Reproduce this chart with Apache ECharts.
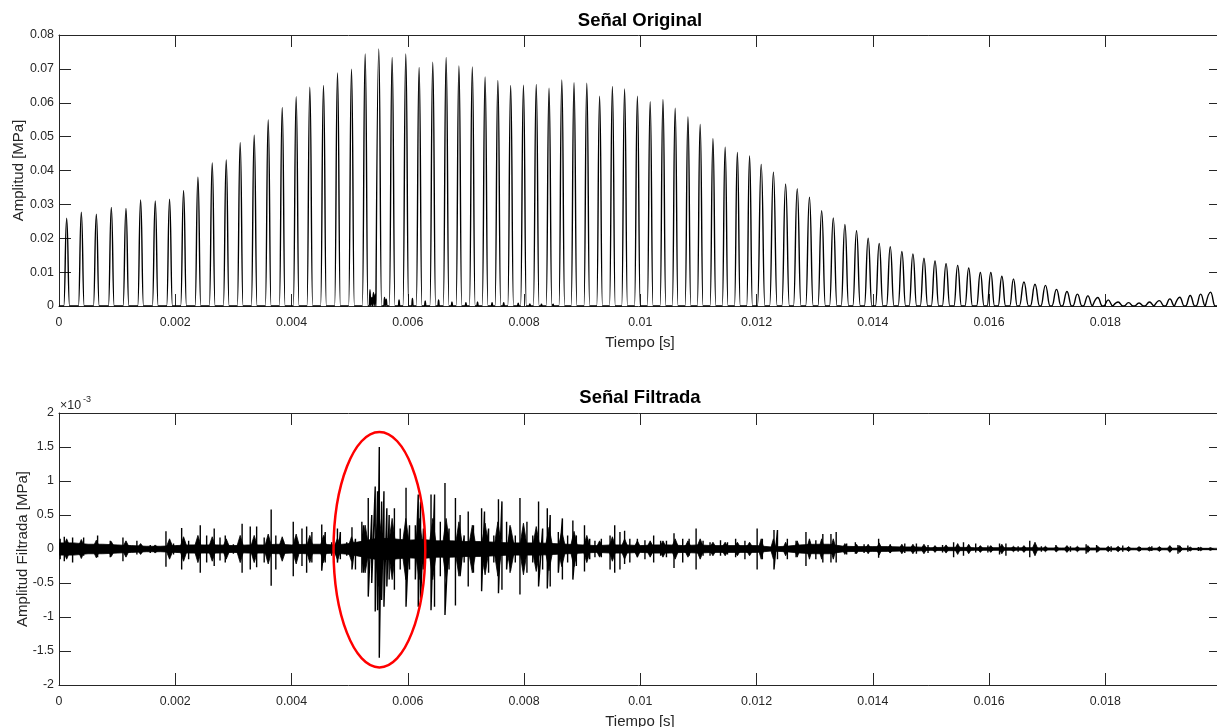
<!DOCTYPE html>
<html>
<head>
<meta charset="utf-8">
<title>Señal Original / Señal Filtrada</title>
<script src="https://cdn.jsdelivr.net/npm/echarts@6/dist/echarts.min.js"></script>
<style>
  html, body { margin: 0; padding: 0; background: #fff; }
  #chart { width: 1217px; height: 727px; }
</style>
</head>
<body>
<div id="chart"></div>
<script>
// ---- Señal Original: peak time [s] and peak amplitude [MPa] of every pulse ----
const peakTime = [
  0.000132, 0.000384, 0.000642, 0.000900, 0.001152, 0.001404, 0.001656, 0.001902, 0.002143, 0.002390,
  0.002636, 0.002877, 0.003117, 0.003358, 0.003599, 0.003840, 0.004080, 0.004315, 0.004550, 0.004791,
  0.005032, 0.005267, 0.005501, 0.005731, 0.005966, 0.006195, 0.00643, 0.00666, 0.00688, 0.00711,
  0.00733, 0.00755, 0.00777, 0.00799, 0.00821, 0.00843, 0.00865, 0.00886, 0.00908, 0.00930,
  0.00952, 0.00973, 0.00995, 0.01017, 0.01039, 0.01060, 0.01082, 0.01103, 0.01125, 0.01146,
  0.01167, 0.01188, 0.01208, 0.01229, 0.01250, 0.01270, 0.01291, 0.01312, 0.01332, 0.01352,
  0.01372, 0.01392, 0.01411, 0.01430, 0.01450, 0.01469, 0.01488, 0.01507, 0.01526, 0.01546,
  0.01565, 0.01585, 0.01603, 0.01622, 0.01642, 0.01660, 0.01679, 0.01697, 0.01716, 0.01734,
  0.01752, 0.01770, 0.01787, 0.01805, 0.01822, 0.01840, 0.01858, 0.01876, 0.01893, 0.01911,
  0.01928, 0.01946, 0.01964, 0.01981
];
const peakAmp = [
  0.0259, 0.0277, 0.0271, 0.0291, 0.0288, 0.0313, 0.0310, 0.0315, 0.0341, 0.0380,
  0.0422, 0.0431, 0.0482, 0.0504, 0.0549, 0.0586, 0.0618, 0.0646, 0.0651, 0.0688,
  0.0699, 0.0744, 0.0759, 0.0734, 0.0744, 0.0704, 0.0720, 0.0734, 0.0709, 0.0706,
  0.0676, 0.0666, 0.0651, 0.0652, 0.0654, 0.0643, 0.0667, 0.0659, 0.0658, 0.0619,
  0.0648, 0.0641, 0.0619, 0.0603, 0.0610, 0.0584, 0.0558, 0.0536, 0.0494, 0.0469,
  0.0453, 0.0443, 0.0418, 0.0395, 0.0360, 0.0346, 0.0321, 0.0281, 0.0260, 0.0241,
  0.0222, 0.0200, 0.0185, 0.0175, 0.0161, 0.0154, 0.0141, 0.0133, 0.0125, 0.0120,
  0.0112, 0.0099, 0.0099, 0.0088, 0.0080, 0.0071, 0.0064, 0.0061, 0.0049, 0.0043,
  0.0035, 0.0030, 0.0025, 0.0018, 0.0012, 0.0010, 0.0009, 0.0012, 0.0016, 0.0021,
  0.0026, 0.0031, 0.0035, 0.0041
];
// small wiggles on the baseline between pulses
const bumpTime = [0.00535, 0.00538, 0.00541, 0.00544, 0.0056, 0.00563, 0.00585, 0.00608, 0.0063, 0.00653,
  0.00676, 0.0070, 0.0072, 0.00745, 0.00765, 0.0079, 0.0081, 0.0083, 0.0085];
const bumpAmp = [0.0048, 0.0025, 0.0040, 0.0035, 0.0025, 0.0020, 0.0018, 0.0022, 0.0015, 0.0018,
  0.0012, 0.0010, 0.0012, 0.0010, 0.0010, 0.0008, 0.0006, 0.0005, 0.0005];

// ---- Señal Filtrada (values in units of 1e-3 MPa) ----
// half-thickness of the dense burst that follows each pulse (same order as peakTime)
const burstAmp = [
  0.15, 0.14, 0.13, 0.11, 0.12, 0.08, 0.06, 0.15, 0.18, 0.20,
  0.18, 0.15, 0.20, 0.20, 0.22, 0.18, 0.22, 0.20, 0.20, 0.16,
  0.18, 0.35, 0.55, 0.45, 0.45, 0.45, 0.45, 0.45, 0.40, 0.35,
  0.38, 0.40, 0.32, 0.38, 0.33, 0.32, 0.26, 0.26, 0.20, 0.12,
  0.18, 0.15, 0.12, 0.12, 0.12, 0.15, 0.12, 0.15, 0.10, 0.10,
  0.10, 0.10, 0.15, 0.15, 0.10, 0.12, 0.15, 0.15, 0.15, 0.08,
  0.07, 0.07, 0.09, 0.06, 0.07, 0.07, 0.07, 0.05, 0.06, 0.08,
  0.07, 0.05, 0.05, 0.07, 0.04, 0.05, 0.10, 0.04, 0.04, 0.05,
  0.04, 0.05, 0.04, 0.04, 0.04, 0.035, 0.035, 0.03, 0.035, 0.05,
  0.05, 0.03, 0.025, 0.02
];
// half-thickness of the noise floor between bursts, read every 0.25 ms
const bandTime = [
  0, 0.00025, 0.0005, 0.00075, 0.001, 0.00125, 0.0015, 0.00175, 0.002, 0.00225,
  0.0025, 0.00275, 0.003, 0.00325, 0.0035, 0.00375, 0.004, 0.00425, 0.0045, 0.00475,
  0.005, 0.00525, 0.0055, 0.00575, 0.006, 0.00625, 0.0065, 0.00675, 0.007, 0.00725,
  0.0075, 0.00775, 0.008, 0.00825, 0.0085, 0.00875, 0.009, 0.00925, 0.0095, 0.00975,
  0.01, 0.01025, 0.0105, 0.01075, 0.011, 0.01125, 0.0115, 0.01175, 0.012, 0.01225,
  0.0125, 0.01275, 0.013, 0.01325, 0.0135, 0.01375, 0.014, 0.01425, 0.0145, 0.01475,
  0.015, 0.01525, 0.0155, 0.01575, 0.016, 0.01625, 0.0165, 0.01675, 0.017, 0.01725,
  0.0175, 0.01775, 0.018, 0.01825, 0.0185, 0.01875, 0.019, 0.01925, 0.0195, 0.01975, 0.01999
];
const bandAmp = [
  0.09, 0.09, 0.07, 0.07, 0.06, 0.05, 0.04, 0.04, 0.05, 0.06,
  0.06, 0.06, 0.05, 0.06, 0.06, 0.07, 0.06, 0.07, 0.07, 0.06,
  0.08, 0.12, 0.16, 0.15, 0.13, 0.14, 0.12, 0.12, 0.11, 0.11,
  0.10, 0.09, 0.09, 0.09, 0.08, 0.07, 0.06, 0.05, 0.06, 0.06,
  0.05, 0.06, 0.06, 0.05, 0.06, 0.05, 0.05, 0.05, 0.05, 0.03,
  0.04, 0.06, 0.07, 0.07, 0.04, 0.035, 0.035, 0.035, 0.03, 0.03,
  0.02, 0.025, 0.025, 0.02, 0.02, 0.02, 0.018, 0.02, 0.015, 0.015,
  0.015, 0.015, 0.013, 0.013, 0.012, 0.012, 0.012, 0.012, 0.01, 0.01, 0.01
];
// individual spikes: time, upper and lower extreme
const spikeTime = [
  0.00002, 0.000091, 0.000234, 0.000424, 0.000664, 0.000882, 0.0011, 0.00134, 0.00157, 0.00184,
  0.00197, 0.00211, 0.00223, 0.00243, 0.00254, 0.00267, 0.00277, 0.00286, 0.0030, 0.00315,
  0.00329, 0.0034, 0.00353, 0.00365, 0.00373, 0.00386, 0.00403, 0.00418, 0.00426, 0.00435,
  0.00452, 0.00458, 0.00469, 0.00479, 0.00484, 0.00495, 0.00504, 0.0051, 0.00521, 0.00524,
  0.00532, 0.00538, 0.00544, 0.00548, 0.00551, 0.00555, 0.00559, 0.00564, 0.00568, 0.00577,
  0.00587, 0.00597, 0.00603, 0.00613, 0.00618, 0.00622, 0.00627, 0.0064, 0.00646, 0.00656,
  0.00664, 0.00671, 0.00682, 0.0069, 0.00697, 0.00704, 0.00713, 0.00727, 0.00732, 0.00739,
  0.00748, 0.00756, 0.00762, 0.0077, 0.00776, 0.00785, 0.00793, 0.00805, 0.00815, 0.00825,
  0.00832, 0.0084, 0.00845, 0.00859, 0.00866, 0.00875, 0.00884, 0.0089, 0.00904, 0.00913,
  0.00922, 0.00933, 0.00948, 0.00956, 0.00965, 0.00973, 0.00982, 0.00995, 0.01008, 0.01023,
  0.01035, 0.01045, 0.01058, 0.01073, 0.01084, 0.01096, 0.01108, 0.0112, 0.01138, 0.0115,
  0.01164, 0.0118, 0.01201, 0.0121, 0.0123, 0.01236, 0.01253, 0.01268, 0.01285, 0.01302,
  0.01314, 0.01328, 0.01337, 0.01355, 0.0137, 0.01385, 0.0141, 0.0143, 0.01455, 0.01475,
  0.01495, 0.0152, 0.01539, 0.01556, 0.01577, 0.01598, 0.01618, 0.01629, 0.0165, 0.0167,
  0.0169, 0.01715, 0.0174, 0.01767, 0.01785, 0.0181, 0.0183, 0.0186, 0.0188, 0.01925,
  0.01942, 0.0196, 0.0198
];
const spikeHigh = [
  0.15, 0.18, 0.17, 0.17, 0.20, 0.12, 0.17, 0.12, 0.06, 0.26,
  0.08, 0.31, 0.12, 0.35, 0.20, 0.30, 0.17, 0.20, 0.07, 0.37,
  0.33, 0.33, 0.17, 0.58, 0.20, 0.12, 0.40, 0.30, 0.33, 0.25,
  0.36, 0.25, 0.10, 0.30, 0.25, 0.10, 0.32, 0.15, 0.40, 0.35,
  0.75, 0.50, 0.92, 0.85, 1.50, 0.70, 0.85, 0.60, 0.50, 0.60,
  0.30, 0.90, 0.35, 0.35, 0.80, 0.70, 0.30, 0.80, 0.80, 0.40,
  0.97, 0.30, 0.75, 0.50, 0.20, 0.55, 0.35, 0.60, 0.55, 0.30,
  0.20, 0.73, 0.70, 0.40, 0.35, 0.20, 0.75, 0.40, 0.20, 0.70,
  0.30, 0.60, 0.50, 0.25, 0.45, 0.20, 0.42, 0.20, 0.35, 0.15,
  0.12, 0.15, 0.20, 0.35, 0.25, 0.27, 0.15, 0.15, 0.13, 0.20,
  0.12, 0.12, 0.23, 0.15, 0.15, 0.30, 0.12, 0.10, 0.13, 0.10,
  0.15, 0.12, 0.30, 0.15, 0.28, 0.28, 0.15, 0.12, 0.25, 0.13,
  0.22, 0.22, 0.25, 0.08, 0.10, 0.07, 0.15, 0.07, 0.08, 0.08,
  0.06, 0.06, 0.10, 0.10, 0.08, 0.05, 0.08, 0.08, 0.04, 0.12,
  0.04, 0.06, 0.04, 0.07, 0.06, 0.04, 0.05, 0.03, 0.04, 0.06,
  0.05, 0.03, 0.02
];
const spikeLow = [
  -0.15, -0.18, -0.20, -0.10, -0.12, -0.12, -0.18, -0.08, -0.06, -0.26,
  -0.08, -0.30, -0.15, -0.35, -0.20, -0.25, -0.17, -0.20, -0.07, -0.35,
  -0.30, -0.27, -0.20, -0.54, -0.30, -0.10, -0.40, -0.25, -0.35, -0.20,
  -0.32, -0.20, -0.10, -0.20, -0.15, -0.10, -0.30, -0.30, -0.35, -0.35,
  -0.70, -0.50, -0.92, -0.90, -1.60, -0.75, -0.85, -0.55, -0.45, -0.60,
  -0.30, -0.85, -0.30, -0.45, -0.85, -0.75, -0.30, -0.90, -0.85, -0.40,
  -0.97, -0.30, -0.83, -0.40, -0.20, -0.55, -0.35, -0.62, -0.30, -0.35,
  -0.20, -0.65, -0.60, -0.30, -0.35, -0.20, -0.67, -0.35, -0.20, -0.55,
  -0.30, -0.58, -0.55, -0.35, -0.45, -0.20, -0.45, -0.25, -0.33, -0.15,
  -0.12, -0.12, -0.30, -0.35, -0.30, -0.22, -0.20, -0.12, -0.15, -0.20,
  -0.10, -0.12, -0.28, -0.20, -0.10, -0.30, -0.10, -0.10, -0.10, -0.08,
  -0.12, -0.15, -0.30, -0.15, -0.30, -0.15, -0.15, -0.12, -0.25, -0.15,
  -0.20, -0.20, -0.20, -0.08, -0.07, -0.06, -0.13, -0.06, -0.06, -0.07,
  -0.06, -0.05, -0.12, -0.10, -0.05, -0.05, -0.08, -0.10, -0.04, -0.12,
  -0.04, -0.04, -0.04, -0.07, -0.05, -0.04, -0.04, -0.03, -0.03, -0.07,
  -0.04, -0.03, -0.02
];
// red ellipse marking the strongest burst: centre time, centre value, half-width [s], half-height
const ellipseMark = [[0.005512, -0.01, 0.000789, 1.731]];

const tMax = 0.01999;
const axisColor = '#262626';
const font = "'Liberation Sans', Arial, Helvetica, sans-serif";

// pulse train for the original signal, built from the read peaks
function pulseHalfWidth(t) {
  if (t < 0.012) return 0.00005;
  if (t < 0.0165) return 0.000065;
  return 0.00008;
}
const marks = [];
peakTime.forEach((t, i) => marks.push({ t, a: peakAmp[i], hw: pulseHalfWidth(t) }));
bumpTime.forEach((t, i) => marks.push({ t, a: bumpAmp[i], hw: 0.000012 }));
marks.sort((p, q) => p.t - q.t);
const originalData = [[0, 0]];
marks.forEach(m => {
  originalData.push([Math.max(0, m.t - m.hw), 0], [m.t, m.a], [m.t + m.hw, 0]);
});
originalData.push([tMax, 0]);

// filtered signal: noise floor + one bead per pulse + isolated spikes
const bandUpper = bandTime.map((t, i) => [t, bandAmp[i]]);
const bandLower = bandTime.map((t, i) => [t, -bandAmp[i]]);
const beadUpper = [[0, 0]];
const beadLower = [[0, 0]];
peakTime.forEach((t, i) => {
  const w = t < 0.012 ? 0.00007 : 0.00005;
  beadUpper.push([Math.max(0, t - w), 0], [t, burstAmp[i]], [t + w, 0]);
  beadLower.push([Math.max(0, t - w), 0], [t, -burstAmp[i]], [t + w, 0]);
});
const filteredData = [];
spikeTime.forEach((t, i) => {
  filteredData.push([t, spikeHigh[i]], [t, spikeLow[i]]);
  const next = spikeTime[i + 1];
  if (next === undefined || next - t > 0.00007) filteredData.push([t, null]);
});

function xAxisDef(gridIndex, top) {
  return {
    type: 'value', gridIndex, position: top ? 'top' : 'bottom',
    min: 0, max: tMax, interval: 0.002,
    name: top ? '' : 'Tiempo [s]', nameLocation: 'middle', nameGap: 29, nameMoveOverlap: false,
    nameTextStyle: { color: axisColor, fontSize: 15, fontFamily: font },
    axisLine: { show: true, onZero: false, lineStyle: { color: axisColor, width: 1 } },
    axisTick: { show: true, inside: true, length: 12, lineStyle: { color: axisColor } },
    axisLabel: { show: !top, showMaxLabel: false, margin: 11, color: axisColor, fontSize: 12.4, fontFamily: font },
    splitLine: { show: false }
  };
}
function yAxisDef(gridIndex, right, min, max, interval, name, nameGap) {
  return {
    type: 'value', gridIndex, position: right ? 'right' : 'left',
    min, max, interval,
    name: right ? '' : name, nameLocation: 'middle', nameGap, nameMoveOverlap: false,
    nameTextStyle: { color: axisColor, fontSize: 15, fontFamily: font },
    axisLine: { show: true, onZero: false, lineStyle: { color: axisColor, width: 1 } },
    axisTick: { show: true, inside: true, length: 12, lineStyle: { color: axisColor } },
    axisLabel: { show: !right, margin: 5, color: axisColor, fontSize: 12.4, fontFamily: font },
    splitLine: { show: false }
  };
}

function fill(data) {
  return {
    type: 'line', xAxisIndex: 2, yAxisIndex: 2, data,
    showSymbol: false, symbol: 'none',
    lineStyle: { color: '#000', width: 0.8 }, areaStyle: { color: '#000', opacity: 1, origin: 0 }
  };
}

const chart = echarts.init(document.getElementById('chart'), null, { renderer: 'canvas' });
chart.setOption({
  animation: false,
  backgroundColor: '#fff',
  title: [
    { text: 'Señal Original', left: 640, top: 11, textAlign: 'center', padding: 0,
      textStyle: { fontSize: 18.5, fontWeight: 'bold', color: '#000', fontFamily: font } },
    { text: 'Señal Filtrada', left: 640, top: 388, textAlign: 'center', padding: 0,
      textStyle: { fontSize: 18.5, fontWeight: 'bold', color: '#000', fontFamily: font } }
  ],
  graphic: [
    { type: 'text', left: 60, top: 400, style: { text: '×10', fill: axisColor, font: '12.4px ' + font } },
    { type: 'text', left: 83, top: 395, style: { text: '-3', fill: axisColor, font: '9px ' + font } }
  ],
  grid: [
    { left: 59, top: 35, width: 1162, height: 271, outerBoundsMode: 'none', containLabel: false },
    { left: 59, top: 413, width: 1162, height: 272, outerBoundsMode: 'none', containLabel: false }
  ],
  xAxis: [xAxisDef(0, false), xAxisDef(0, true), xAxisDef(1, false), xAxisDef(1, true)],
  yAxis: [
    yAxisDef(0, false, 0, 0.08, 0.01, 'Amplitud [MPa]', 33),
    yAxisDef(0, true, 0, 0.08, 0.01, '', 0),
    yAxisDef(1, false, -2, 2, 0.5, 'Amplitud Filtrada [MPa]', 29),
    yAxisDef(1, true, -2, 2, 0.5, '', 0)
  ],
  series: [
    {
      type: 'line', xAxisIndex: 0, yAxisIndex: 0, data: originalData,
      showSymbol: false, symbol: 'none', smooth: 0.5, smoothMonotone: 'x',
      lineStyle: { color: '#000', width: 1.4 }
    },
    fill(bandUpper),
    fill(bandLower),
    fill(beadUpper),
    fill(beadLower),
    {
      type: 'line', xAxisIndex: 2, yAxisIndex: 2, data: filteredData,
      showSymbol: false, symbol: 'none', connectNulls: false,
      lineStyle: { color: '#000', width: 1.4 }
    },
    {
      type: 'custom', xAxisIndex: 2, yAxisIndex: 2, data: ellipseMark,
      clip: false, z: 10,
      renderItem: (params, api) => {
        const c = api.coord([api.value(0), api.value(1)]);
        const s = api.size([api.value(2), api.value(3)]);
        return {
          type: 'ellipse',
          shape: { cx: c[0], cy: c[1], rx: s[0], ry: s[1] },
          style: { fill: 'none', stroke: '#ff0000', lineWidth: 2.5 }
        };
      }
    }
  ]
});
</script>
</body>
</html>
